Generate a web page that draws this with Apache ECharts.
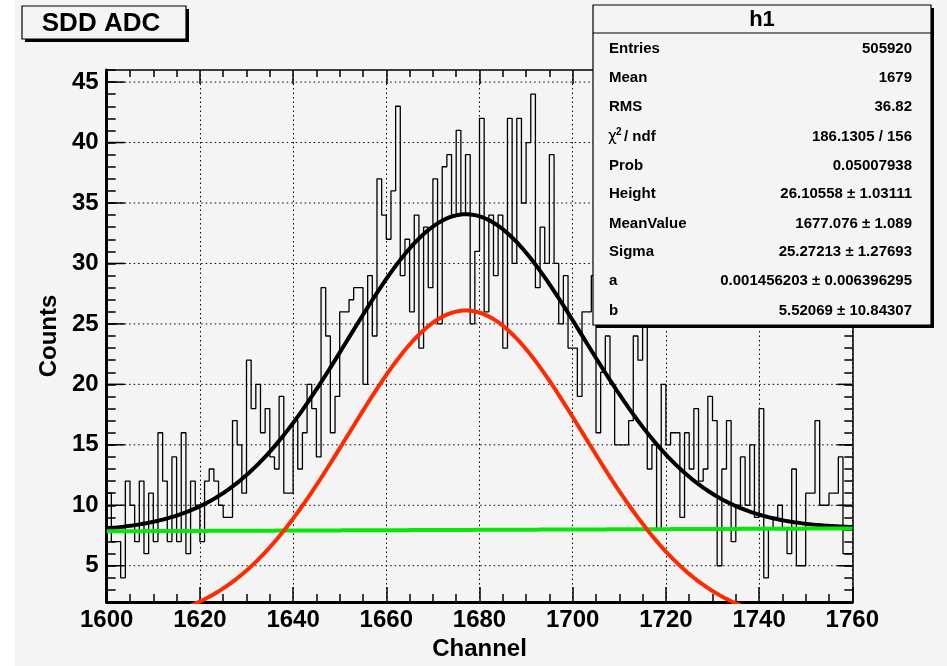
<!DOCTYPE html>
<html>
<head>
<meta charset="utf-8">
<script src="https://cdn.jsdelivr.net/npm/echarts@6/dist/echarts.min.js"></script>
<style>
html, body { margin: 0; padding: 0; background: #ffffff; }
#chart { width: 947px; height: 666px; }
</style>
</head>
<body>
<div id="chart"></div>
<script>
// Histogram h1: one bin per channel, 1600 .. 1760
const channelStart = 1600;
const channelEnd = 1760;
const counts = [
  11, 7, 7, 4, 12, 10, 7, 12, 6, 11,
  7, 16, 12, 7, 14, 7, 16, 6, 12, 10,
  7, 12, 13, 12, 10, 9, 9, 17, 15, 11,
  22, 18, 20, 16, 18, 14, 13, 19, 11, 11,
  17, 13, 16, 20, 18, 14, 28, 24, 16, 19,
  26, 26, 27, 28, 28, 20, 29, 24, 37, 34,
  32, 36, 43, 29, 32, 26, 34, 23, 33, 28,
  37, 25, 38, 39, 34, 41, 34, 39, 25, 31,
  42, 26, 34, 29, 34, 23, 42, 30, 42, 35,
  40, 44, 28, 33, 30, 39, 30, 25, 29, 23,
  23, 19, 26, 26, 29, 16, 21, 24, 20, 15,
  15, 15, 17, 24, 22, 27, 13, 15, 8, 20,
  15, 16, 16, 9, 16, 13, 18, 12, 13, 19,
  17, 5, 13, 17, 7, 10, 14, 10, 15, 9,
  18, 4, 8, 9, 10, 8, 6, 13, 5, 5,
  11, 11, 17, 10, 10, 11, 11, 14, 6, 6
];

// Axis ticks
const xTicks = [1600, 1620, 1640, 1660, 1680, 1700, 1720, 1740, 1760];
const yTicks = [5, 10, 15, 20, 25, 30, 35, 40, 45];
const yMin = 2;
const yMax = 46;

// Fit result: gaus(Height, MeanValue, Sigma) + a*x + b
const fitHeight = 26.10558;
const fitMean = 1677.076;
const fitSigma = 25.27213;
const bgSlope = 0.001456203;
const bgOffset = 5.52069;

// Statistics box rows
const statsTitle = 'h1';
const statsLabels = ['Entries', 'Mean', 'RMS', 'CHI2', 'Prob', 'Height', 'MeanValue', 'Sigma', 'a', 'b'];
const statsValues = ['505920', '1679', '36.82', '186.1305 / 156', '0.05007938',
  '26.10558 \u00b1 1.03111', '1677.076 \u00b1 1.089', '25.27213 \u00b1 1.27693',
  '0.001456203 \u00b1 0.006396295', '5.52069 \u00b1 10.84307'];

const FONT = '"Liberation Sans", Arial, Helvetica, sans-serif';

// step outline: one point per bin low edge, plus the closing edge
const histPoints = counts.map((c, i) => [channelStart + i, c]);
histPoints.push([channelEnd, counts[counts.length - 1]]);

function gaus(x) {
  const t = (x - fitMean) / fitSigma;
  return fitHeight * Math.exp(-0.5 * t * t);
}
function background(x) { return bgSlope * x + bgOffset; }

const totalFit = [], peakFit = [], bgFit = [];
for (let x = channelStart; x <= channelEnd + 1e-9; x += 0.5) {
  totalFit.push([x, gaus(x) + background(x)]);
  peakFit.push([x, gaus(x)]);
  bgFit.push([x, background(x)]);
}

const chart = echarts.init(document.getElementById('chart'), null, { renderer: 'canvas' });

const tickLine = { color: '#000', width: 1.5 };

// stats box geometry
const boxX = 593, boxY = 5, boxW = 338, boxH = 320;
const rowY = [49, 78, 107, 137, 166, 194, 224, 252, 281, 311];
const statsGraphics = [
  { type: 'rect', shape: { x: boxX + 3, y: boxY + 3, width: boxW, height: boxH }, style: { fill: '#000' }, z: 10 },
  { type: 'rect', shape: { x: boxX, y: boxY, width: boxW, height: boxH }, style: { fill: '#f4f4f4', stroke: '#000', lineWidth: 1.2 }, z: 11 },
  { type: 'line', shape: { x1: boxX, y1: 33, x2: boxX + boxW, y2: 33 }, style: { stroke: '#000', lineWidth: 1.2 }, z: 12 },
  { type: 'text', x: boxX + boxW / 2, y: 20, style: { text: statsTitle, font: 'bold 22px ' + FONT, fill: '#000', align: 'center', verticalAlign: 'middle' }, z: 12 }
];
statsLabels.forEach((lab, i) => {
  if (lab === 'CHI2') {
    statsGraphics.push({ type: 'text', x: 608, y: rowY[i], style: { text: '\u03c7', font: '15px "DejaVu Sans", sans-serif', fill: '#000', align: 'left', verticalAlign: 'middle' }, z: 12 });
    statsGraphics.push({ type: 'text', x: 616, y: rowY[i] - 5, style: { text: '2', font: 'bold 10px ' + FONT, fill: '#000', align: 'left', verticalAlign: 'middle' }, z: 12 });
    statsGraphics.push({ type: 'text', x: 624, y: rowY[i], style: { text: '/ ndf', font: 'bold 15px ' + FONT, fill: '#000', align: 'left', verticalAlign: 'middle' }, z: 12 });
  } else {
    statsGraphics.push({ type: 'text', x: 609, y: rowY[i], style: { text: lab, font: 'bold 15px ' + FONT, fill: '#000', align: 'left', verticalAlign: 'middle' }, z: 12 });
  }
  statsGraphics.push({ type: 'text', x: 912, y: rowY[i], style: { text: statsValues[i], font: 'bold 15px ' + FONT, fill: '#000', align: 'right', verticalAlign: 'middle' }, z: 12 });
});

const option = {
  animation: false,
  backgroundColor: '#ffffff',
  grid: { left: 106.7, right: 94.7, top: 70, bottom: 64, show: false },
  xAxis: [
    {
      type: 'value', position: 'bottom', min: channelStart, max: channelEnd, interval: 20,
      axisLine: { onZero: false, lineStyle: { color: '#000', width: 3 } },
      axisTick: { inside: true, length: 15, lineStyle: tickLine },
      minorTick: { show: true, splitNumber: 4, length: 8, lineStyle: tickLine },
      axisLabel: { color: '#000', fontFamily: FONT, fontWeight: 'bold', fontSize: 24, margin: 6,
        formatter: v => (xTicks.includes(v) ? String(v) : '') },
      splitLine: { show: true, lineStyle: { color: '#000', width: 1, type: [1.5, 3] } },
      name: 'Channel', nameLocation: 'middle', nameGap: 34,
      nameTextStyle: { color: '#000', fontFamily: FONT, fontWeight: 'bold', fontSize: 24 }
    },
    {
      type: 'value', position: 'top', min: channelStart, max: channelEnd, interval: 20,
      axisLine: { onZero: false, lineStyle: { color: '#000', width: 1.5 } },
      axisTick: { inside: true, length: 14, lineStyle: tickLine },
      minorTick: { show: true, splitNumber: 4, length: 7, lineStyle: tickLine },
      axisLabel: { show: false }, splitLine: { show: false }
    }
  ],
  yAxis: [
    {
      type: 'value', position: 'left', min: yMin, max: yMax, interval: 1,
      axisLine: { onZero: false, lineStyle: { color: '#000', width: 3 } },
      axisTick: { inside: true, length: 9, lineStyle: tickLine },
      axisLabel: { color: '#000', fontFamily: FONT, fontWeight: 'bold', fontSize: 24, margin: 8,
        padding: [6, 0, 0, 0],
        formatter: v => (yTicks.includes(v) ? String(v) : '') },
      splitLine: { show: false },
      name: 'Counts', nameLocation: 'middle', nameGap: 45, nameRotate: 90,
      nameTextStyle: { color: '#000', fontFamily: FONT, fontWeight: 'bold', fontSize: 24 }
    },
    {
      type: 'value', position: 'right', min: yMin, max: yMax, interval: 1,
      axisLine: { onZero: false, lineStyle: { color: '#000', width: 1.5 } },
      axisTick: { inside: true, length: 8, lineStyle: tickLine },
      axisLabel: { show: false }, splitLine: { show: false }
    }
  ],
  graphic: [
    { type: 'rect', shape: { x: 15, y: 0, width: 932, height: 666 }, style: { fill: '#f4f4f4' }, z: -10, silent: true },
    // title box
    { type: 'rect', shape: { x: 25, y: 9, width: 164, height: 33 }, style: { fill: '#000' }, z: 10 },
    { type: 'rect', shape: { x: 22, y: 6, width: 164, height: 33 }, style: { fill: '#f4f4f4', stroke: '#000', lineWidth: 1.2 }, z: 11 },
    { type: 'text', x: 101, y: 24, style: { text: 'SDD ADC', font: 'bold 26px ' + FONT, fill: '#000', align: 'center', verticalAlign: 'middle' }, z: 12 }
  ].concat(statsGraphics),
  series: [
    {
      // horizontal grid lines and long ticks on the y axes
      type: 'custom', coordinateSystem: 'cartesian2d', xAxisIndex: 0, yAxisIndex: 0,
      silent: true, z: 1, clip: false,
      data: yTicks.map(v => [channelStart, v]),
      renderItem: (params, api) => {
        const p = api.coord([api.value(0), api.value(1)]);
        const cs = params.coordSys;
        return {
          type: 'group',
          children: [
            { type: 'line', shape: { x1: cs.x, y1: p[1], x2: cs.x + cs.width, y2: p[1] },
              style: { stroke: '#000', lineWidth: 1, lineDash: [1.5, 3] } },
            { type: 'line', shape: { x1: cs.x, y1: p[1], x2: cs.x + 18, y2: p[1] },
              style: { stroke: '#000', lineWidth: 1.5 } },
            { type: 'line', shape: { x1: cs.x + cs.width - 15, y1: p[1], x2: cs.x + cs.width, y2: p[1] },
              style: { stroke: '#000', lineWidth: 1.5 } }
          ]
        };
      }
    },
    {
      name: 'h1', type: 'line', data: histPoints, step: 'end', symbol: 'none', z: 3,
      lineStyle: { color: '#000', width: 1.3 }
    },
    {
      name: 'total', type: 'line', data: totalFit, symbol: 'none', smooth: false, z: 4,
      lineStyle: { color: '#000', width: 4 }
    },
    {
      name: 'background', type: 'line', data: bgFit, symbol: 'none', z: 5,
      lineStyle: { color: '#08e808', width: 4 }
    },
    {
      name: 'peak', type: 'line', data: peakFit, symbol: 'none', z: 6,
      lineStyle: { color: '#ff2a00', width: 4 }
    }
  ]
};

chart.setOption(option);
</script>
</body>
</html>
